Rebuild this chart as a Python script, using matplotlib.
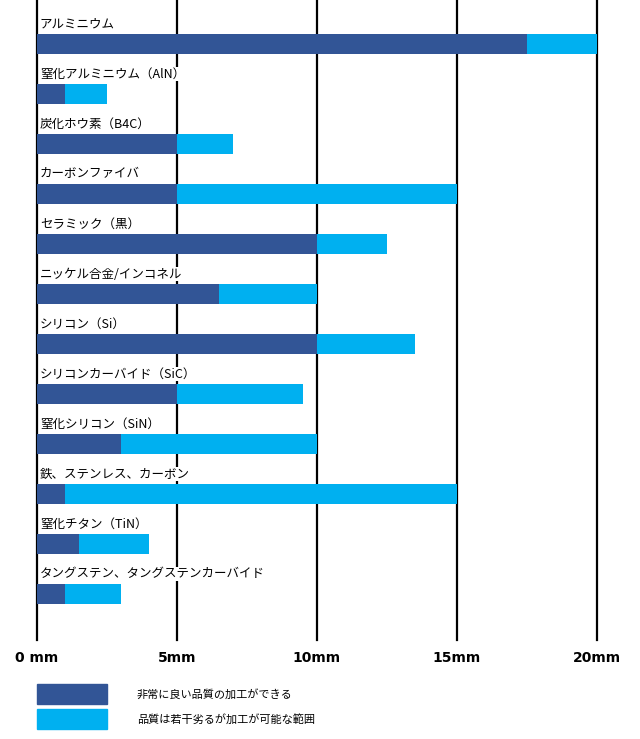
import matplotlib.pyplot as plt
from matplotlib.patches import Rectangle

plt.rcParams['font.family'] = ['Noto Sans CJK JP', 'DejaVu Sans']

materials = ['アルミニウム', '窒化アルミニウム（AlN）', '炭化ホウ素（B4C）', 'カーボンファイバ',
             'セラミック（黒）', 'ニッケル合金/インコネル', 'シリコン（Si）', 'シリコンカーバイド（SiC）',
             '窒化シリコン（SiN）', '鉄、ステンレス、カーボン', '窒化チタン（TiN）',
             'タングステン、タングステンカーバイド']
# high quality limit (mm) and maximum possible thickness (mm)
good = [17.5, 1, 5, 5, 10, 6.5, 10, 5, 3, 1, 1.5, 1]
limit = [20, 2.5, 7, 15, 12.5, 10, 13.5, 9.5, 10, 15, 4, 3]
ticks = [0, 5, 10, 15, 20]
tick_labels = ['0 mm', '5mm', '10mm', '15mm', '20mm']
legend_labels = ['非常に良い品質の加工ができる', '品質は若干劣るが加工が可能な範囲']

dark = '#325596'
light = '#00B0F0'

fig = plt.figure(figsize=(6.4, 7.39), dpi=100)
ax = fig.add_axes([37 / 640, 1 - 640 / 739, 560 / 640, 640 / 739])

for x in ticks:
    ax.axvline(x, color='black', lw=1.6, zorder=0, clip_on=False)

ypos = list(range(len(materials)))
extra = [l - g for g, l in zip(good, limit)]
ax.barh(ypos, good, height=0.4, color=dark, zorder=2)
ax.barh(ypos, extra, left=good, height=0.4, color=light, zorder=2)

for i, name in enumerate(materials):
    ax.text(0.1, i - 0.4, name, fontsize=9, va='center', ha='left', zorder=3,
            bbox=dict(facecolor='white', edgecolor='none', pad=0.5))

ax.set_xlim(0, 20)
ax.set_ylim(11.92, -0.88)
ax.set_xticks(ticks)
ax.set_xticklabels(tick_labels, fontsize=10, fontweight='bold', family='DejaVu Sans')
ax.tick_params(axis='x', length=0, pad=8)
ax.set_yticks([])
for s in ax.spines.values():
    s.set_visible(False)

# legend drawn by hand below the axis
for k, (c, lab) in enumerate(zip([dark, light], legend_labels)):
    top = 684 + k * 25
    fig.add_artist(Rectangle((37 / 640, 1 - (top + 20) / 739), 70 / 640, 20 / 739,
                             transform=fig.transFigure, color=c))
    fig.text(137 / 640, 1 - (top + 10) / 739, lab, fontsize=8, va='center')

fig.savefig('out.png', dpi=100)
